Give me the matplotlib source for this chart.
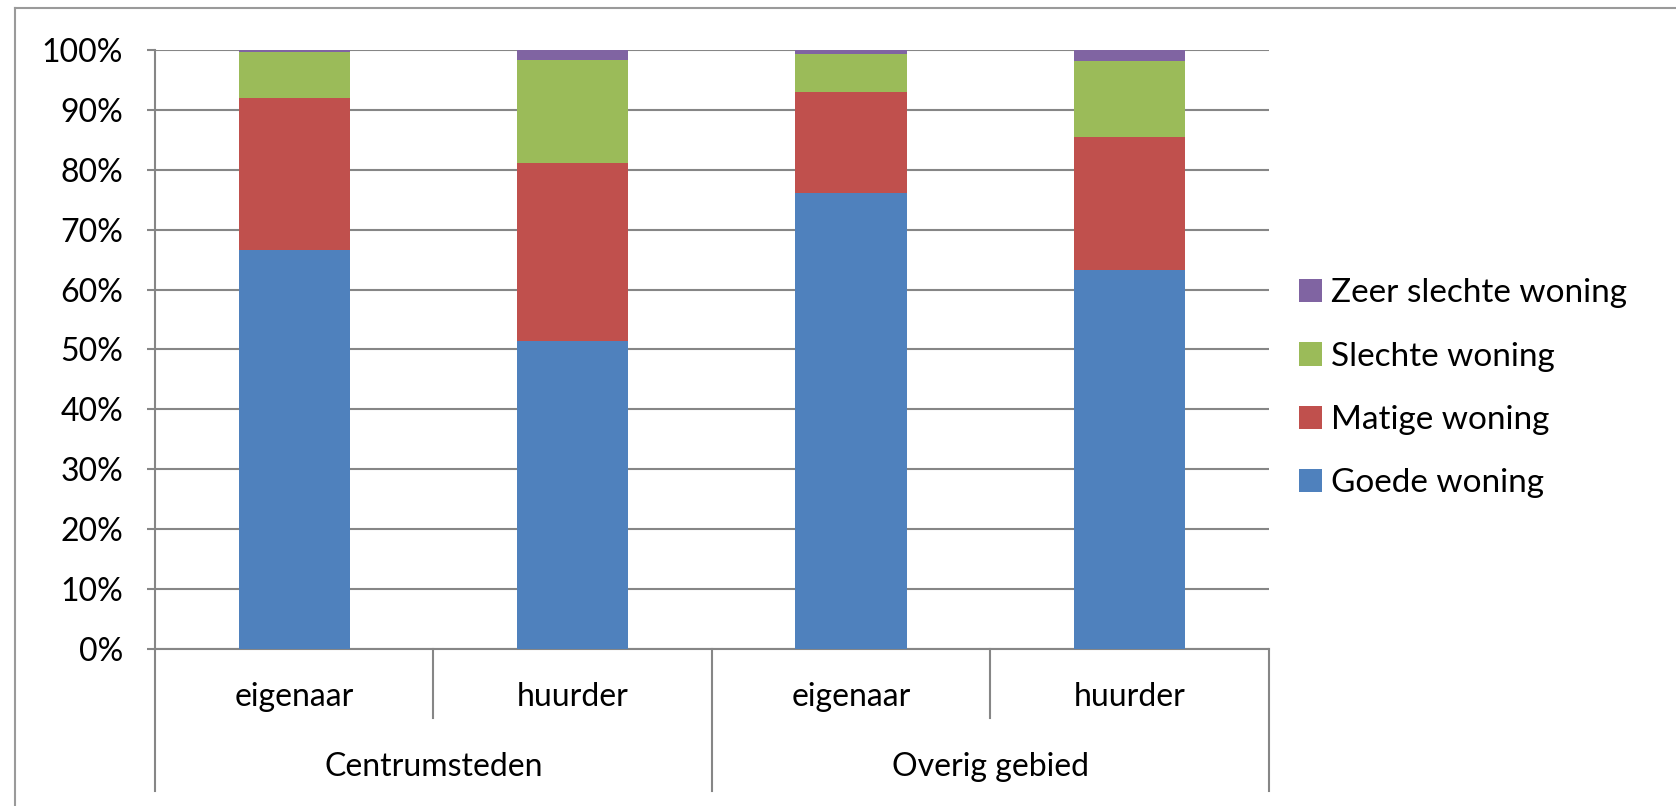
import matplotlib.pyplot as plt
import numpy as np

# data
groups = ["Centrumsteden", "Overig gebied"]
tenure = ["eigenaar", "huurder", "eigenaar", "huurder"]
series = ["Goede woning", "Matige woning", "Slechte woning", "Zeer slechte woning"]
goede = [66.6, 51.4, 76.2, 63.2]
matige = [25.4, 29.8, 16.7, 22.2]
slechte = [7.7, 17.2, 6.5, 12.8]
zeer_slecht = [0.3, 1.6, 0.6, 1.8]
colors = ["#4F81BD", "#C0504D", "#9BBB59", "#8064A2"]

plt.rcParams["font.family"] = ["Lato", "DejaVu Sans"]
FS = 23

fig = plt.figure(figsize=(16.76, 8.06), dpi=100)
ax = fig.add_axes([0.0925, 0.195, 0.757 - 0.0925, 0.938 - 0.195])

x = np.arange(len(tenure))
bottom = np.zeros(len(tenure))
bars = []
for name, vals, col in zip(series, [goede, matige, slechte, zeer_slecht], colors):
    b = ax.bar(x, vals, 0.4, bottom=bottom, color=col, label=name, zorder=3)
    bars.append(b)
    bottom += np.array(vals)

grid_col = "#868686"
ax.set_xlim(-0.5, 3.5)
ax.set_ylim(0, 100)
ax.set_yticks(np.arange(0, 101, 10))
ax.set_yticklabels([f"{v}%" for v in range(0, 101, 10)], fontsize=FS)
ax.yaxis.grid(True, color=grid_col, linewidth=1.5, zorder=0)
ax.tick_params(axis="y", length=6, width=1.5, color=grid_col, pad=17)
ax.set_xticks([])
for s in ["top", "right"]:
    ax.spines[s].set_visible(False)
for s in ["left", "bottom"]:
    ax.spines[s].set_color(grid_col)
    ax.spines[s].set_linewidth(1.5)

# two-level category axis
tr = ax.get_xaxis_transform()
for xs, low in [(-0.5, -0.237), (0.5, -0.115), (1.5, -0.237), (2.5, -0.115), (3.5, -0.237)]:
    ax.plot([xs, xs], [0, low], transform=tr, color=grid_col, lw=1.5, clip_on=False)
for xi, lab in zip(x, tenure):
    ax.text(xi, -0.08, lab, transform=tr, ha="center", va="center", fontsize=FS)
for gi, g in enumerate(groups):
    ax.text(gi * 2 + 0.5, -0.198, g, transform=tr, ha="center", va="center", fontsize=FS)

# legend, reversed order like the reference
leg = fig.legend(bars[::-1], series[::-1], loc="center left",
                 bbox_to_anchor=(0.775, 0.518), frameon=False, fontsize=24,
                 handlelength=0.7, handleheight=0.7, handletextpad=0.25,
                 labelspacing=1.0, borderpad=0, borderaxespad=0)

# outer chart frame (left and top edges)
fig.add_artist(plt.Line2D([15 / 1676, 15 / 1676], [0, 1 - 8 / 806], color="#9a9a9a", lw=1.5))
fig.add_artist(plt.Line2D([15 / 1676, 1], [1 - 8 / 806, 1 - 8 / 806], color="#9a9a9a", lw=1.5))

fig.savefig("out.png", dpi=100)
